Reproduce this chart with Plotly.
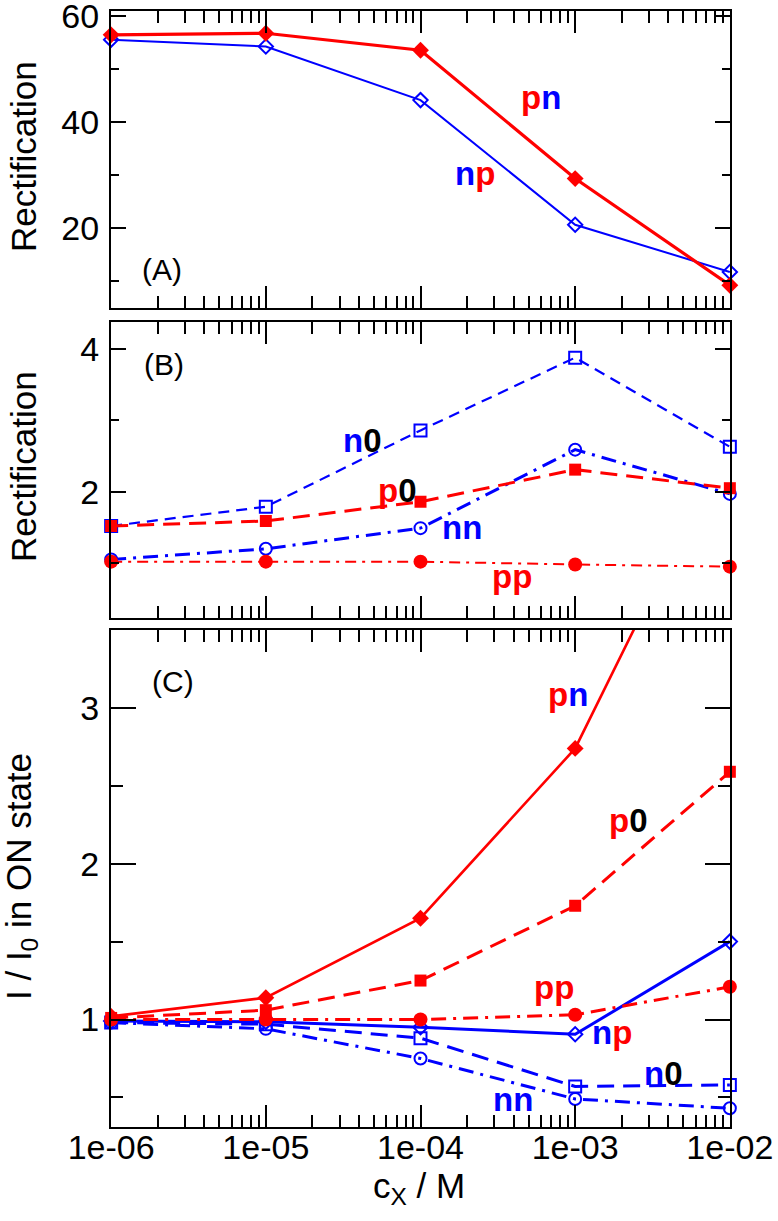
import plotly.graph_objects as go

W, H = 778, 1221

# ---------------- data ----------------
x = [1e-6, 1e-5, 1e-4, 1e-3, 1e-2]
x_ticktext = ["1e-06", "1e-05", "1e-04", "1e-03", "1e-02"]

# Panel A: rectification
a_pn = [56.4, 56.7, 53.5, 29.3, 9.2]
a_np = [55.5, 54.2, 44.1, 20.6, 11.7]

# Panel B: rectification
b_n0 = [1.52, 1.79, 2.86, 3.88, 2.63]
b_p0 = [1.52, 1.59, 1.86, 2.31, 2.05]
b_nn = [1.05, 1.20, 1.49, 2.59, 1.97]
b_pp = [1.02, 1.02, 1.02, 0.98, 0.95]

# Panel C: I / I0 in ON state
c_pn = [1.02, 1.14, 1.65, 2.74, 4.75]
c_p0 = [1.01, 1.06, 1.25, 1.73, 2.59]
c_pp = [1.00, 1.00, 1.00, 1.03, 1.21]
c_np = [0.99, 0.985, 0.95, 0.905, 1.50]
c_n0 = [0.98, 0.97, 0.88, 0.57, 0.58]
c_nn = [0.98, 0.94, 0.75, 0.49, 0.43]

RED = "#ff0000"
BLUE = "#0000ff"
FONT = "Liberation Sans, Arial, Helvetica, sans-serif"

fig = go.Figure()


def add(xa, ya, y, color, width, dash, symbol, size, clip=False):
    open_sym = symbol.endswith("-open")
    fig.add_trace(go.Scatter(
        x=x, y=y, xaxis=xa, yaxis=ya, mode="lines+markers",
        line=dict(color=color, width=width, dash=dash),
        marker=dict(symbol=symbol, size=size, color=color,
                    line=dict(color=color, width=2 if open_sym else 0)),
        cliponaxis=clip, showlegend=False, hoverinfo="skip"))


DASH = "17px,9px"
DASHDOT = "15px,7px,3px,7px"

# Panel A (blue first, red on top)
add("x", "y", a_np, BLUE, 2, "solid", "diamond-open", 11)
add("x", "y", a_pn, RED, 3.2, "solid", "diamond", 13)

# Panel B
add("x2", "y2", b_n0, BLUE, 2.2, "11px,7px", "square-open", 12)
add("x2", "y2", b_nn, BLUE, 3, DASHDOT, "circle-open", 12)
add("x2", "y2", b_p0, RED, 3, DASH, "square", 12)
add("x2", "y2", b_pp, RED, 2, "11px,6px,3px,6px", "circle", 14)

# Panel C
add("x3", "y3", c_np, BLUE, 3, "solid", "diamond-open", 11)
add("x3", "y3", c_n0, BLUE, 3, DASH, "square-open", 12)
add("x3", "y3", c_nn, BLUE, 3, DASHDOT, "circle-open", 12)
add("x3", "y3", c_pn, RED, 2.6, "solid", "diamond", 13, clip=True)
add("x3", "y3", c_p0, RED, 3, DASH, "square", 12)
add("x3", "y3", c_pp, RED, 3, DASHDOT, "circle", 14)

# ---------------- axes ----------------
xdom = [111 / W, 730 / W]


def ydom(top_px, bot_px):
    return [1 - bot_px / H, 1 - top_px / H]


tickfont = dict(family=FONT, size=34, color="black")


def xaxis(anchor, show):
    return dict(type="log", range=[-6.001, -1.999], domain=xdom, anchor=anchor,
                tickmode="array", tickvals=x, ticktext=x_ticktext,
                showticklabels=show, tickfont=tickfont,
                ticks="inside", ticklen=22, tickwidth=2, tickcolor="black",
                minor=dict(ticks="inside", ticklen=12, tickwidth=2,
                           tickcolor="black", dtick="D1", showgrid=False),
                mirror="allticks", showline=True, linewidth=2, linecolor="black",
                showgrid=False, zeroline=False, automargin=False,
                ticklabelstandoff=-11, ticklabeloverflow="allow")


def yaxis(anchor, dom, rng, dtick, mdtick, tl, mtl):
    return dict(domain=dom, anchor=anchor, range=rng,
                tickmode="linear", tick0=0, dtick=dtick, tickfont=tickfont,
                ticks="inside", ticklen=tl, tickwidth=2, tickcolor="black",
                minor=dict(ticks="inside", ticklen=mtl, tickwidth=2,
                           tickcolor="black", dtick=mdtick, tick0=0, showgrid=False),
                mirror="allticks", showline=True, linewidth=2, linecolor="black",
                showgrid=False, zeroline=False, automargin=False,
                ticklabelstandoff=3, ticklabeloverflow="allow")


fig.update_layout(
    width=W, height=H,
    margin=dict(l=0, r=0, t=0, b=0),
    paper_bgcolor="white", plot_bgcolor="white",
    font=dict(family=FONT, color="black"),
    xaxis=xaxis("y", False),
    xaxis2=xaxis("y2", False),
    xaxis3=xaxis("y3", True),
    yaxis=yaxis("x", ydom(11, 308), [4.9, 60.9], 20, 10, 15, 8),
    yaxis2=yaxis("x2", ydom(322, 618), [0.23, 4.38], 2, 1, 15, 8),
    yaxis3=yaxis("x3", ydom(630, 1127), [0.31, 3.5], 1, 0.5, 25, 12),
)

# ---------------- text ----------------
anns = []


def txt(text, px, py, size, angle=0):
    anns.append(dict(text=text, x=px / W, y=1 - py / H, xref="paper", yref="paper",
                     xanchor="center", yanchor="middle", showarrow=False,
                     textangle=angle, font=dict(family=FONT, size=size, color="black")))


def two(a, ca, b, cb):
    return (f"<b><span style='color:{ca}'>{a}</span>"
            f"<span style='color:{cb}'>{b}</span></b>")


LS = 33
# Panel A labels
txt(two("p", RED, "n", BLUE), 541, 97, LS)
txt(two("n", BLUE, "p", RED), 475, 174, LS)
txt("(A)", 162, 269, 30)
# Panel B labels
txt(two("n", BLUE, "0", "black"), 362, 440, LS)
txt(two("p", RED, "0", "black"), 397, 490, LS)
txt(two("n", BLUE, "n", BLUE), 462, 527, LS)
txt(two("p", RED, "p", RED), 512, 576, LS)
txt("(B)", 164, 364, 30)
# Panel C labels
txt(two("p", RED, "n", BLUE), 568, 694, LS)
txt(two("p", RED, "0", "black"), 628, 820, LS)
txt(two("p", RED, "p", RED), 554, 987, LS)
txt(two("n", BLUE, "p", RED), 612, 1032, LS)
txt(two("n", BLUE, "0", "black"), 663, 1073, LS)
txt(two("n", BLUE, "n", BLUE), 513, 1099, LS)
txt("(C)", 173, 681, 30)

# axis titles
txt("Rectification", 23, 157, 35, -90)
txt("Rectification", 23, 467, 35, -90)
txt("I / I<sub>0</sub> in ON state", 21, 877, 35, -90)
txt("c<sub>X</sub> / M", 419, 1188, 35)

fig.update_layout(annotations=anns)

fig.write_html("out.html")
